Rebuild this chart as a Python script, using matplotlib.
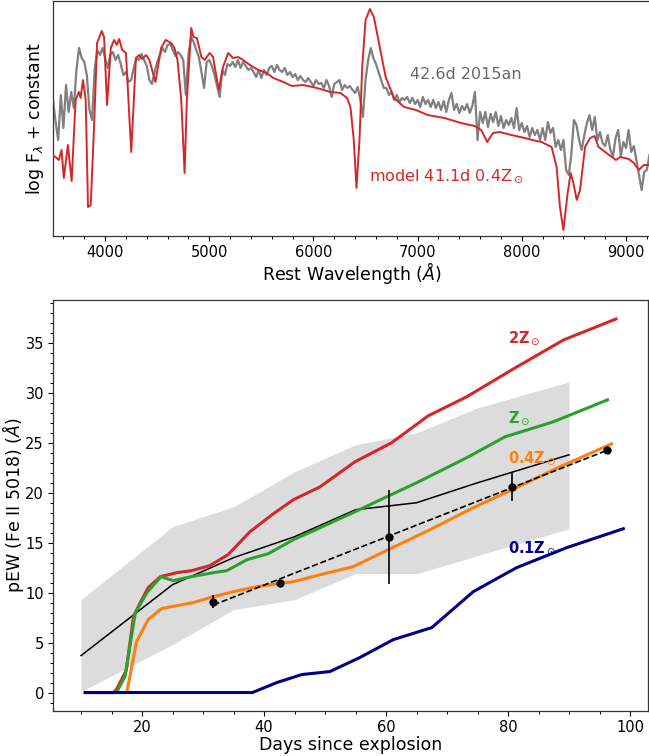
import numpy as np
import matplotlib
matplotlib.use("Agg")
import matplotlib.pyplot as plt
from matplotlib.ticker import MultipleLocator

# ---------------- Top panel: spectra ----------------
obs_wave_start, obs_wave_step, obs_n = 3500, 25, 230
obs_flux = [
    1.40, 1.18, 1.00, 1.45, 1.12, 1.55, 1.28, 1.48, 1.32, 1.70,
    1.92, 1.82, 1.78, 1.65, 1.30, 1.20, 1.70, 1.90, 1.85, 1.92,
    1.82, 1.72, 1.85, 1.88, 1.80, 1.85, 1.76, 1.65, 1.68, 1.58,
    1.60, 1.72, 1.82, 1.80, 1.86, 1.80, 1.74, 1.60, 1.56, 1.68,
    1.78, 1.85, 1.92, 1.88, 1.95, 1.96, 1.90, 1.84, 1.88, 1.85,
    1.80, 1.45, 1.85, 2.03, 1.98, 1.90, 1.83, 1.68, 1.52, 1.78,
    1.80, 1.74, 1.65, 1.54, 1.43, 1.70, 1.65, 1.76, 1.74, 1.78,
    1.73, 1.80, 1.72, 1.78, 1.74, 1.70, 1.72, 1.68, 1.63, 1.70,
    1.62, 1.70, 1.65, 1.72, 1.74, 1.68, 1.75, 1.70, 1.68, 1.72,
    1.65, 1.68, 1.63, 1.66, 1.60, 1.64, 1.60, 1.58, 1.62, 1.58,
    1.54, 1.60, 1.56, 1.57, 1.52, 1.60, 1.54, 1.43, 1.56, 1.58,
    1.60, 1.50, 1.55, 1.52, 1.54, 1.50, 1.47, 1.53, 1.40, 1.23,
    1.60, 1.80, 1.92, 1.82, 1.76, 1.68, 1.60, 1.52, 1.52, 1.45,
    1.48, 1.40, 1.45, 1.38, 1.42, 1.40, 1.43, 1.37, 1.42, 1.36,
    1.40, 1.33, 1.43, 1.36, 1.40, 1.33, 1.40, 1.32, 1.38, 1.30,
    1.39, 1.28, 1.40, 1.47, 1.30, 1.36, 1.27, 1.34, 1.30, 1.36,
    1.27, 1.34, 1.48, 1.00, 1.28, 1.17, 1.28, 1.13, 1.26, 1.18,
    1.28, 1.14, 1.24, 1.12, 1.20, 1.15, 1.22, 1.12, 1.32, 1.10,
    1.17, 1.08, 1.14, 1.03, 1.12, 1.05, 1.10, 1.00, 1.12, 1.00,
    1.18, 1.07, 1.12, 0.93, 1.00, 0.90, 1.00, 0.70, 0.65, 0.85,
    1.20, 1.15, 1.00, 0.90, 1.05, 1.17, 1.25, 1.10, 1.23, 1.00,
    1.08, 0.97, 0.94, 1.05, 0.90, 0.84, 1.02, 1.10, 0.84, 0.98,
    0.92, 1.10, 0.88, 0.94, 0.80, 0.65, 0.50, 0.68, 0.70, 0.85,
]
obs_wave = obs_wave_start + obs_wave_step * np.arange(obs_n)

model_wave = [
    3500, 3556, 3582, 3604, 3643, 3679, 3717, 3749, 3765, 3788,
    3814, 3836, 3862, 3894, 3923, 3968, 3990, 4019, 4055, 4087,
    4113, 4135, 4164, 4200, 4251, 4296, 4328, 4357, 4393, 4425,
    4483, 4538, 4579, 4634, 4666, 4695, 4731, 4763, 4785, 4827,
    4849, 4881, 4924, 4956, 5004, 5036, 5091, 5132, 5181, 5229,
    5277, 5325, 5390, 5470, 5551, 5615, 5711, 5793, 5902, 6034,
    6162, 6259, 6323, 6355, 6387, 6413, 6442, 6468, 6500, 6542,
    6580, 6629, 6693, 6773, 6870, 6983, 7096, 7256, 7417, 7546,
    7610, 7668, 7723, 7787, 7900, 8028, 8141, 8189, 8286, 8334,
    8366, 8399, 8440, 8469, 8495, 8527, 8559, 8607, 8656, 8698,
    8737, 8800, 8865, 8904, 8945, 9026, 9075, 9123, 9171, 9235,
]
model_flux = [
    0.85, 0.80, 0.90, 0.62, 0.95, 0.59, 1.40, 1.48, 1.42, 1.60,
    1.40, 0.33, 0.35, 1.13, 1.97, 2.09, 2.03, 1.35, 1.92, 2.00,
    1.95, 2.01, 1.90, 1.87, 0.88, 1.82, 1.85, 1.81, 1.85, 1.80,
    1.58, 1.92, 2.00, 1.97, 1.92, 1.80, 1.40, 0.67, 1.40, 2.12,
    2.03, 2.02, 1.83, 1.80, 1.87, 1.83, 1.50, 1.73, 1.87, 1.82,
    1.83, 1.80, 1.75, 1.70, 1.67, 1.62, 1.58, 1.54, 1.55, 1.52,
    1.48, 1.47, 1.42, 1.33, 1.00, 0.52, 1.00, 1.73, 2.20, 2.31,
    2.23, 1.97, 1.63, 1.42, 1.33, 1.30, 1.25, 1.22, 1.17, 1.14,
    1.10, 0.98, 1.07, 1.08, 1.05, 1.02, 0.99, 0.98, 0.93, 0.73,
    0.33, 0.10, 0.47, 0.67, 0.57, 0.40, 0.50, 0.93, 1.02, 1.04,
    0.93, 0.88, 0.83, 0.80, 0.83, 0.81, 0.77, 0.70, 0.75, 0.75,
]

# ---------------- Bottom panel: pEW evolution ----------------
band_days = [10, 25, 35, 45, 55, 65, 75, 90]
band_mean = [3.7, 10.8, 13.5, 15.6, 18.3, 19.0, 21.0, 23.8]
band_upper = [9.3, 16.6, 18.6, 22.1, 24.8, 26.0, 28.5, 31.1]
band_lower = [0.1, 4.8, 8.3, 9.3, 11.9, 11.9, 13.7, 16.4]

z2_days = [10.7, 15.3, 15.8, 17.4, 18.6, 19.7, 21.0, 23.0, 25.7, 28.1, 31.1,
           34.1, 37.7, 41.3, 44.8, 49.2, 54.9, 60.9, 66.9, 73.2, 80.6, 89.1, 97.7]
z2_pew = [0.0, 0.0, 0.3, 2.2, 7.6, 9.0, 10.5, 11.6, 12.0, 12.2, 12.7,
          13.8, 16.1, 17.8, 19.3, 20.6, 23.1, 25.0, 27.7, 29.6, 32.3, 35.3, 37.4]

z1_days = [10.7, 15.8, 17.2, 18.9, 20.8, 23.1, 25.1, 28.1, 31.7, 33.9, 37.2,
           40.7, 44.8, 49.2, 54.9, 65.0, 73.2, 79.5, 87.4, 96.3]
z1_pew = [0.0, 0.0, 1.6, 8.0, 10.0, 11.6, 11.2, 11.6, 12.0, 12.2, 13.3,
          13.9, 15.3, 16.5, 18.1, 21.0, 23.5, 25.6, 27.1, 29.3]

z04_days = [10.7, 17.5, 19.1, 21.0, 23.2, 25.7, 28.4, 31.1, 35.0, 38.8, 44.8,
            49.2, 54.6, 60.7, 67.2, 74.3, 80.3, 88.5, 97.0]
z04_pew = [0.0, 0.0, 5.1, 7.3, 8.4, 8.7, 9.0, 9.5, 10.1, 10.6, 11.1,
           11.8, 12.6, 14.4, 16.3, 18.5, 20.2, 22.6, 24.9]

z01_days = [10.7, 38.1, 42.1, 46.2, 50.8, 55.7, 61.2, 67.5, 74.3, 81.4, 89.6, 98.9]
z01_pew = [0.0, 0.0, 1.0, 1.8, 2.1, 3.5, 5.3, 6.5, 10.1, 12.5, 14.5, 16.4]

obs_days = [31.7, 42.6, 60.5, 80.7, 96.3]
obs_pew = [9.1, 11.0, 15.6, 20.6, 24.3]
obs_err = [0.65, 0.3, 4.7, 1.45, 0.15]

RED = '#d62728'
GREEN = '#2ca02c'
ORANGE = '#ff7f0e'
NAVY = '#00008b'

fig = plt.figure(figsize=(6.49, 7.56), dpi=100)
ax1 = fig.add_axes([53/649, (756-236)/756, 598/649, 235/756])
ax2 = fig.add_axes([53/649, (756-711)/756, 595/649, 411/756])

# top
ax1.plot(obs_wave, obs_flux, color='gray', lw=1.6, zorder=2)
ax1.plot(model_wave, model_flux, color=RED, lw=1.4, zorder=3)
ax1.set_xlim(3500, 9240)
ax1.set_ylim(0.04, 2.39)
ax1.set_yticks([])
ax1.xaxis.set_major_locator(MultipleLocator(1000))
ax1.xaxis.set_minor_locator(MultipleLocator(200))
ax1.set_xlabel(r'Rest Wavelength ($\AA$)', fontsize=12.5, labelpad=0)
ax1.set_ylabel(r'log F$_\lambda$ + constant', fontsize=12.5)
ax1.yaxis.set_label_coords(-0.012, 0.5)
ax1.text(6925, 1.61, '42.6d 2015an', color='dimgray', fontsize=11.5, va='baseline')
ax1.text(6529, 0.60, r'model 41.1d 0.4Z$_\odot$', color=RED, fontsize=11.5, va='baseline')

# bottom
ax2.fill_between(band_days, band_lower, band_upper, color='#dcdcdc', lw=0, zorder=1)
ax2.plot(band_days, band_mean, color='black', lw=1.1, zorder=3)
ax2.plot(z2_days, z2_pew, color=RED, lw=2.2, zorder=4)
ax2.plot(z1_days, z1_pew, color=GREEN, lw=2.2, zorder=5)
ax2.plot(z04_days, z04_pew, color=ORANGE, lw=2.2, zorder=4)
ax2.plot(z01_days, z01_pew, color=NAVY, lw=2.2, zorder=6)

coef = np.polyfit(obs_days, obs_pew, 1)
fit_x = np.array([obs_days[0], obs_days[-1]])
ax2.plot(fit_x, np.polyval(coef, fit_x), color='black', ls='--', lw=1.2, zorder=7)
ax2.errorbar(obs_days, obs_pew, yerr=obs_err, fmt='o', color='black',
             ms=5, elinewidth=1.2, capsize=0, zorder=8)

ax2.set_xlim(5.4, 102.95)
ax2.set_ylim(-1.85, 39.3)
ax2.xaxis.set_major_locator(MultipleLocator(20))
ax2.xaxis.set_minor_locator(MultipleLocator(5))
ax2.yaxis.set_major_locator(MultipleLocator(5))
ax2.yaxis.set_minor_locator(MultipleLocator(1))
ax2.set_xlabel('Days since explosion', fontsize=12.5, labelpad=1)
ax2.set_ylabel(r'pEW (Fe II 5018) ($\AA$)', fontsize=12.5)
ax2.yaxis.set_label_coords(-0.045, 0.5)

ax2.text(80, 35.5, r'$\mathbf{2Z}_\odot$', color=RED, fontsize=10.5, va='center')
ax2.text(80, 27.5, r'$\mathbf{Z}_\odot$', color=GREEN, fontsize=10.5, va='center')
ax2.text(80, 23.5, r'$\mathbf{0.4Z}_\odot$', color=ORANGE, fontsize=10.5, va='center')
ax2.text(80, 14.5, r'$\mathbf{0.1Z}_\odot$', color=NAVY, fontsize=10.5, va='center')

for ax in (ax1, ax2):
    ax.tick_params(axis='both', which='major', labelsize=10.5, length=3.5, width=0.8, pad=3)
    ax.tick_params(axis='both', which='minor', length=2, width=0.7)
    for s in ax.spines.values():
        s.set_linewidth(0.9)
        s.set_color('#333333')

fig.savefig('out.png', dpi=100)
